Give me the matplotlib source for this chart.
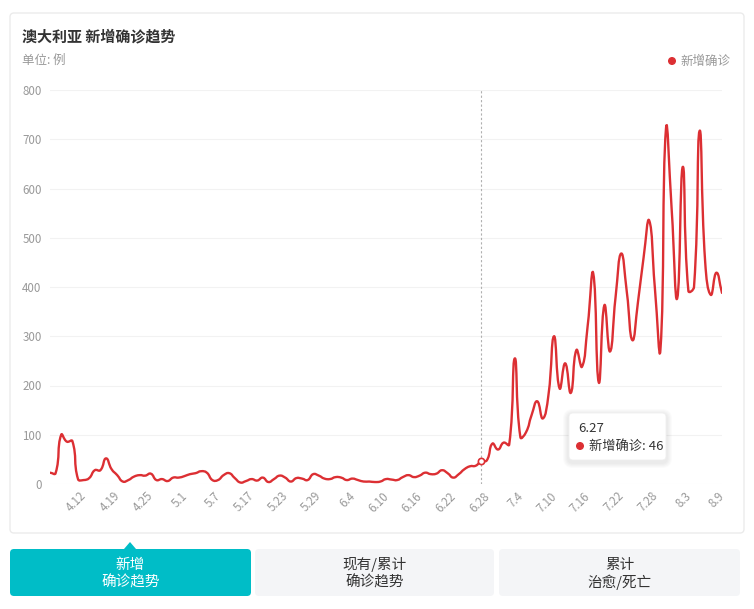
import numpy as np
import pandas as pd
import matplotlib
matplotlib.use("Agg")
import matplotlib.pyplot as plt
import matplotlib.transforms as mtransforms
from matplotlib.patches import FancyBboxPatch, Circle, Polygon, PathPatch
from matplotlib.path import Path

plt.rcParams["font.family"] = ["Noto Sans CJK SC", "DejaVu Sans"]

# --- data -------------------------------------------------------------
# dates present in the source series (a few days are missing)
skipped = ["2020-04-17", "2020-05-09", "2020-05-10", "2020-05-13", "2020-05-14"]
all_days = pd.date_range("2020-04-06", "2020-08-09", freq="D")
days = [d for d in all_days if d.strftime("%Y-%m-%d") not in skipped]
dates = [f"{d.month}.{d.day}" for d in days]

new_cases = [
    23, 22, 100, 86, 87, 10, 8, 12, 28, 28,
    52, 30, 18, 5, 8, 15, 18, 17, 21, 8,
    10, 6, 13, 13, 16, 20, 22, 26, 23, 8,
    8, 18, 22, 12, 3, 6, 10, 7, 13, 4,
    10, 17, 13, 5, 12, 11, 8, 20, 17, 11,
    10, 14, 13, 8, 11, 8, 5, 5, 4, 5,
    10, 9, 8, 14, 18, 14, 17, 23, 20, 21,
    28, 22, 13, 20, 30, 36, 37, 46, 48, 82,
    70, 84, 80, 255, 95, 105, 140, 168, 133, 180,
    300, 194, 245, 185, 272, 238, 320, 428, 206, 363,
    269, 380, 468, 390, 292, 370, 460, 535, 400, 272,
    722, 560, 377, 644, 392, 400, 717, 450, 384, 429,
    388,
]

tick_idx = list(range(6, len(dates), 6))
y_ticks = [0, 100, 200, 300, 400, 500, 600, 700, 800]
hover_idx = dates.index("6.27")

RED = "#dc2f33"
GRAY = "#999999"
TEAL = "#00bdc7"

W, H = 754, 609
fig = plt.figure(figsize=(W / 100, H / 100), dpi=100)

# background overlay in pixel coordinates
bg = fig.add_axes([0, 0, 1, 1], zorder=0)
bg.set_xlim(0, W)
bg.set_ylim(H, 0)
bg.axis("off")

bg.add_patch(FancyBboxPatch((10, 13), 734, 520, boxstyle="round,pad=0,rounding_size=4",
                            facecolor="white", edgecolor="#ebebeb", linewidth=1))
bg.text(22, 36, "澳大利亚 新增确诊趋势", fontsize=10.8, fontweight="bold",
        color="#333333", va="center", ha="left")
bg.text(22, 60, "单位: 例", fontsize=9, color=GRAY, va="center", ha="left")
bg.add_patch(Circle((672, 61), 3.3, color=RED))
bg.text(680, 61, "新增确诊", fontsize=9, color=GRAY, va="center", ha="left")

# bottom tabs
tabs = [
    (10, 251, "新增\n确诊趋势", TEAL, "white"),
    (255, 494, "现有/累计\n确诊趋势", "#f4f5f7", "#333333"),
    (499, 740, "累计\n治愈/死亡", "#f4f5f7", "#333333"),
]
for x0, x1, label, fc, tc in tabs:
    bg.add_patch(FancyBboxPatch((x0, 549), x1 - x0, 47, boxstyle="round,pad=0,rounding_size=4",
                                facecolor=fc, edgecolor="none"))
    top, bottom = label.split("\n")
    bg.text((x0 + x1) / 2, 565, top, fontsize=10.5, color=tc, ha="center", va="center")
    bg.text((x0 + x1) / 2, 582, bottom, fontsize=10.5, color=tc, ha="center", va="center")
bg.add_patch(Polygon([(124, 549), (130, 542), (136, 549)], closed=True,
                     facecolor=TEAL, edgecolor="none"))

# main chart
ax = fig.add_axes([50 / W, 1 - 484 / H, 672 / W, (484 - 90) / H], zorder=1)
ax.set_facecolor("none")
ax.set_xlim(0, len(dates) - 1)
ax.set_ylim(0, 800)
for s in ax.spines.values():
    s.set_visible(False)
ax.set_yticks(y_ticks)
ax.set_yticklabels([str(v) for v in y_ticks])
ax.set_xticks(tick_idx)
ax.set_xticklabels([dates[i] for i in tick_idx], rotation=45, ha="right", va="top",
                   rotation_mode="anchor")
ax.tick_params(axis="both", length=0, colors=GRAY, labelsize=8.3)
ax.tick_params(axis="y", pad=6)
ax.tick_params(axis="x", pad=4)
shift = mtransforms.ScaledTranslation(-4 / 100, 0, fig.dpi_scale_trans)
for lbl in ax.get_xticklabels():
    lbl.set_transform(lbl.get_transform() + shift)
ax.grid(axis="y", color="#f2f2f2", linewidth=0.8)
ax.set_axisbelow(True)


# smooth line (bezier through the points, like echarts smooth: true)
def smooth_path(xs, ys, sx, sy, k=0.5):
    p = np.column_stack([np.asarray(xs, float) * sx, np.asarray(ys, float) * sy])
    n = len(p)
    cin, cout = np.zeros_like(p), np.zeros_like(p)
    for i in range(n):
        prev = p[i - 1] if i > 0 else p[i]
        nxt = p[i + 1] if i < n - 1 else p[i]
        v = nxt - prev
        d0 = np.hypot(*(p[i] - prev))
        d1 = np.hypot(*(p[i] - nxt))
        tot = d0 + d1
        if tot > 0:
            d0, d1 = d0 / tot, d1 / tot
        cin[i] = p[i] - v * k * d0
        cout[i] = p[i] + v * k * d1
    verts = [p[0]]
    codes = [Path.MOVETO]
    for i in range(n - 1):
        verts += [cout[i], cin[i + 1], p[i + 1]]
        codes += [Path.CURVE4] * 3
    verts = np.array(verts) / [sx, sy]
    return Path(verts, codes)


xs = np.arange(len(dates))
sx = 672 / (len(dates) - 1)
sy = (484 - 90) / 800
ax.add_patch(PathPatch(smooth_path(xs, new_cases, sx, sy), facecolor="none",
                       edgecolor=RED, linewidth=1.7, capstyle="round", joinstyle="round"))

# hover state at 6.27
ax.axvline(hover_idx, color="#b0b0b0", linewidth=0.8, linestyle=(0, (2, 2)))
ax.plot([hover_idx], [new_cases[hover_idx]], "o", markersize=4.5,
        markerfacecolor="white", markeredgecolor=RED, markeredgewidth=1.2)

# tooltip overlay
fg = fig.add_axes([0, 0, 1, 1], zorder=2)
fg.set_xlim(0, W)
fg.set_ylim(H, 0)
fg.axis("off")
for off in [6, 5, 4, 3, 2]:
    fg.add_patch(FancyBboxPatch((569 - off, 413 - off + 2), 97 + 2 * off, 47 + 2 * off,
                                boxstyle="round,pad=0,rounding_size=%d" % (4 + off),
                                facecolor="black", alpha=0.015, edgecolor="none"))
fg.add_patch(FancyBboxPatch((569, 413), 97, 47, boxstyle="round,pad=0,rounding_size=4",
                            facecolor="white", edgecolor="#efefef", linewidth=0.6))
fg.text(578, 428, dates[hover_idx], fontsize=9.5, color="#333333", va="center", ha="left")
fg.add_patch(Circle((580, 446), 3.3, color=RED))
fg.text(589, 446, f"新增确诊: {new_cases[hover_idx]}", fontsize=9.5, color="#333333",
        va="center", ha="left")

fig.savefig("out.png", dpi=100)
